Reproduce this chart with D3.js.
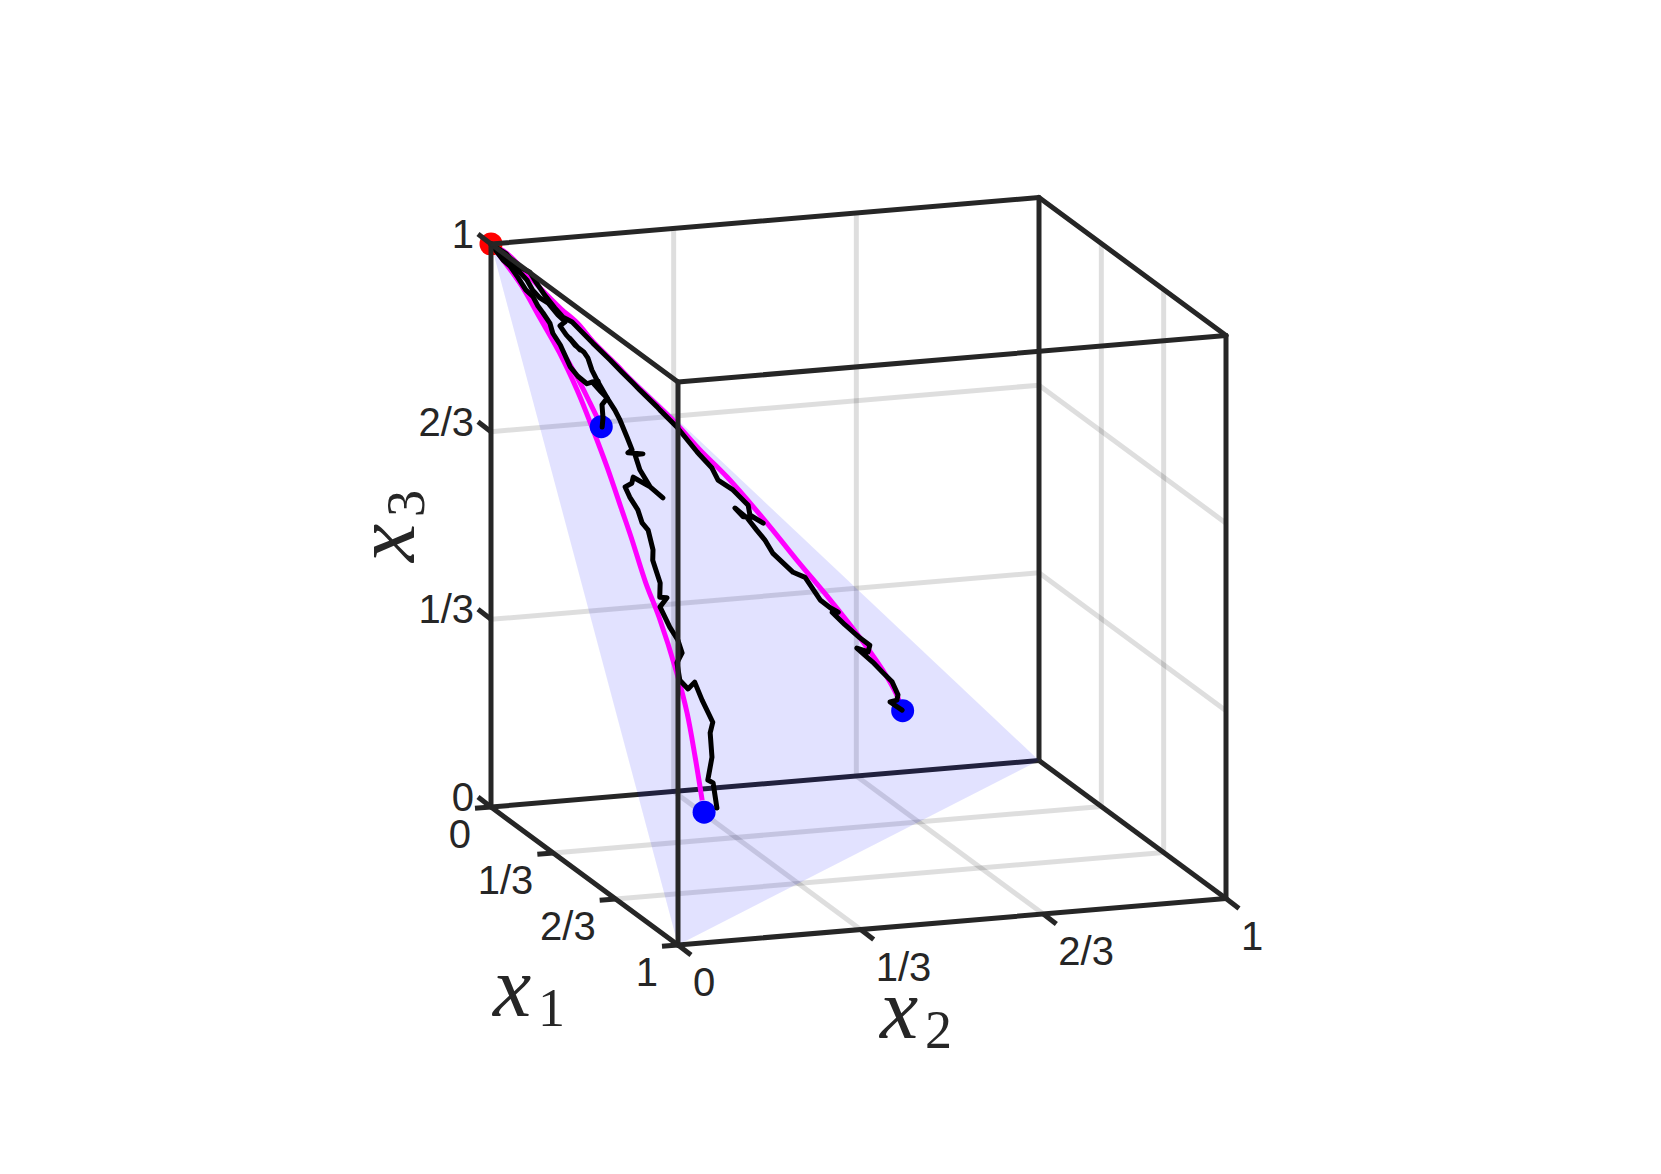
<!DOCTYPE html>
<html><head><meta charset="utf-8"><style>html,body{margin:0;background:#fff}svg{display:block}</style>
<script src="https://cdn.jsdelivr.net/npm/d3@7"></script></head><body><div id="c"></div>
<script>
// ---- Data: simplex coordinates ----
const tickValues = [0, 1/3, 2/3, 1];
const tickLabels = ["0", "1/3", "2/3", "1"];
const startPoint = [0, 0, 1];
const endX1 = [0.70, 0.15, 0.15];
const endX2 = [0.15, 0.15, 0.70];
const endX3 = [0.15, 0.70, 0.15];
const simplexX1 = [1, 0, 0], simplexX2 = [0, 1, 0], simplexX3 = [0, 0, 1];

const meanA1 = [0.000,0.005,0.009,0.026,0.053,0.084,0.124,0.171,0.217,0.272,0.307,0.368,0.409,0.483,0.542,0.611,0.681];
const meanA2 = [0.000,0.013,0.026,0.049,0.071,0.096,0.115,0.128,0.138,0.146,0.151,0.157,0.167,0.174,0.173,0.164,0.153];
const meanA3 = [1.000,0.982,0.965,0.925,0.876,0.820,0.761,0.701,0.645,0.582,0.542,0.475,0.424,0.343,0.285,0.225,0.166];
const meanB1 = [0.000,0.009,0.018,0.029,0.051,0.072,0.099,0.125,0.145];
const meanB2 = [0.000,0.019,0.038,0.056,0.077,0.101,0.123,0.138,0.149];
const meanB3 = [1.000,0.972,0.944,0.915,0.871,0.826,0.778,0.737,0.705];
const meanC1 = [0.000,0.000,0.000,0.000,0.000,0.000,0.004,0.004,0.008,0.009,0.017,0.020,0.036,0.053,0.070,0.090,0.114,0.134,0.152];
const meanC2 = [0.000,0.029,0.059,0.091,0.127,0.158,0.185,0.228,0.256,0.329,0.376,0.424,0.491,0.540,0.595,0.648,0.684,0.697,0.698];
const meanC3 = [1.000,0.981,0.949,0.913,0.875,0.846,0.812,0.767,0.736,0.662,0.607,0.556,0.473,0.407,0.336,0.262,0.202,0.169,0.150];

const pathA1 = [0.000,0.005,0.005,0.006,0.001,0.004,0.012,0.015,0.010,0.015,0.016,0.032,0.039,0.039,0.042,0.037,0.042,0.039,0.043,0.059,0.071,0.085,0.094,0.104,0.124,0.139,0.152,0.127,0.143,0.163,0.177,0.175,0.177,0.189,0.202,0.222,0.232,0.243,0.260,0.263,0.292,0.311,0.342,0.369,0.358,0.388,0.408,0.419,0.436,0.464,0.491,0.494,0.468,0.490,0.512,0.539,0.581,0.632,0.628,0.669];
const pathA2 = [0.000,0.015,0.026,0.038,0.052,0.064,0.072,0.084,0.101,0.117,0.130,0.115,0.124,0.136,0.148,0.131,0.139,0.156,0.162,0.164,0.171,0.183,0.194,0.200,0.206,0.210,0.198,0.234,0.214,0.216,0.230,0.254,0.230,0.195,0.188,0.169,0.174,0.185,0.187,0.197,0.196,0.189,0.192,0.182,0.199,0.176,0.187,0.198,0.200,0.181,0.177,0.191,0.212,0.218,0.230,0.216,0.205,0.180,0.191,0.184];
const pathA3 = [1.000,0.980,0.969,0.956,0.946,0.932,0.915,0.901,0.889,0.868,0.855,0.853,0.838,0.824,0.810,0.831,0.819,0.805,0.795,0.777,0.758,0.732,0.712,0.696,0.670,0.651,0.650,0.639,0.643,0.621,0.593,0.571,0.593,0.616,0.609,0.609,0.593,0.572,0.553,0.540,0.512,0.499,0.466,0.448,0.443,0.436,0.404,0.383,0.364,0.355,0.331,0.315,0.319,0.292,0.257,0.246,0.214,0.188,0.181,0.147];
const pathB1 = [0.000,0.009,0.008,0.014,0.025,0.026,0.034,0.038,0.045,0.058,0.069,0.081,0.093,0.095,0.094,0.082,0.069,0.082,0.084,0.085,0.107,0.130,0.149];
const pathB2 = [0.000,0.019,0.032,0.044,0.055,0.068,0.074,0.082,0.092,0.093,0.103,0.108,0.113,0.126,0.143,0.156,0.172,0.160,0.172,0.183,0.166,0.160,0.152];
const pathB3 = [1.000,0.972,0.960,0.941,0.920,0.907,0.892,0.880,0.863,0.848,0.829,0.812,0.795,0.778,0.763,0.762,0.759,0.758,0.744,0.732,0.727,0.710,0.699];
const pathC1 = [0.000,0.000,0.000,0.000,0.000,0.000,0.007,0.010,0.003,0.004,0.005,0.007,0.009,0.010,0.011,0.012,0.013,0.015,0.026,0.027,0.030,0.042,0.034,0.036,0.051,0.043,0.050,0.068,0.065,0.062,0.067,0.072,0.082,0.083,0.071,0.087,0.085,0.078,0.089,0.090,0.088,0.083,0.100,0.113,0.110,0.113,0.114,0.128,0.140,0.156,0.150];
const pathC2 = [0.000,0.028,0.045,0.071,0.083,0.098,0.114,0.128,0.147,0.161,0.184,0.215,0.236,0.256,0.268,0.299,0.304,0.334,0.367,0.372,0.393,0.400,0.430,0.457,0.455,0.482,0.461,0.437,0.423,0.446,0.462,0.475,0.486,0.523,0.549,0.571,0.590,0.607,0.592,0.615,0.643,0.663,0.654,0.629,0.659,0.677,0.693,0.699,0.693,0.675,0.699];
const pathC3 = [1.000,0.980,0.959,0.944,0.924,0.901,0.879,0.862,0.850,0.835,0.810,0.778,0.755,0.734,0.721,0.689,0.683,0.651,0.607,0.601,0.577,0.558,0.536,0.507,0.494,0.475,0.489,0.496,0.512,0.492,0.470,0.453,0.431,0.394,0.380,0.342,0.326,0.315,0.319,0.295,0.269,0.253,0.246,0.258,0.230,0.210,0.193,0.173,0.167,0.169,0.151];

// ---- Projection of the 3-D axes, built from D3 linear scales ----
const W = 1661, H = 1174, ox = 491, oy = 807;
const x1sx = d3.scaleLinear([0,1],[0,187]),  x1sy = d3.scaleLinear([0,1],[0,138]);
const x2sx = d3.scaleLinear([0,1],[0,548]),  x2sy = d3.scaleLinear([0,1],[0,-46.5]);
const x3sy = d3.scaleLinear([0,1],[0,-563]);
const px = (a,b) => ox + x1sx(a) + x2sx(b);
const py = (a,b,c) => oy + x1sy(a) + x2sy(b) + x3sy(c);
const P = (a,b,c) => [px(a,b), py(a,b,c)];
const zip3 = (A,B,C) => d3.zip(A,B,C);
const line3 = d3.line().x(d=>px(d[0],d[1])).y(d=>py(d[0],d[1],d[2])).curve(d3.curveLinear);
const smooth3 = d3.line().x(d=>px(d[0],d[1])).y(d=>py(d[0],d[1],d[2])).curve(d3.curveCatmullRom.alpha(0.5));

const svg = d3.select("#c").append("svg").attr("width",W).attr("height",H).attr("viewBox",[0,0,W,H]);
const ink = "#262626", boxW = 5, gridW = 5, gridOp = 0.13;
const seg = (g,a,b,stroke,w,op) => g.append("line").attr("x1",a[0]).attr("y1",a[1]).attr("x2",b[0]).attr("y2",b[1])
  .attr("stroke",stroke).attr("stroke-width",w).attr("stroke-opacity",op==null?1:op);

// grid on the three back walls
const grid = svg.append("g");
[1/3,2/3].forEach(t=>{
  seg(grid,P(0,t,0),P(0,t,1),"#000",gridW,gridOp);
  seg(grid,P(0,0,t),P(0,1,t),"#000",gridW,gridOp);
  seg(grid,P(t,1,0),P(t,1,1),"#000",gridW,gridOp);
  seg(grid,P(0,1,t),P(1,1,t),"#000",gridW,gridOp);
  seg(grid,P(t,0,0),P(t,1,0),"#000",gridW,gridOp);
  seg(grid,P(0,t,0),P(1,t,0),"#000",gridW,gridOp);
});

// back box edges (covered by the simplex)
const back = svg.append("g");
seg(back,P(0,0,0),P(0,1,0),ink,boxW);
seg(back,P(0,1,0),P(0,1,1),ink,boxW);
seg(back,P(0,1,0),P(1,1,0),ink,boxW);

// simplex
svg.append("polygon")
  .attr("points", d3.zip(simplexX1,simplexX2,simplexX3).map(d=>P(d[0],d[1],d[2]).join(",")).join(" "))
  .attr("fill","#0000ff").attr("fill-opacity",0.115);

// mean curves
svg.append("g").selectAll("path").data([zip3(meanA1,meanA2,meanA3),zip3(meanB1,meanB2,meanB3),zip3(meanC1,meanC2,meanC3)])
  .join("path").attr("d",smooth3).attr("fill","none").attr("stroke","#ff00ff").attr("stroke-width",5);

// start and end points
const pts = svg.append("g");
pts.selectAll("circle.end").data(zip3(endX1,endX2,endX3)).join("circle").attr("class","end")
  .attr("cx",d=>px(d[0],d[1])).attr("cy",d=>py(d[0],d[1],d[2])).attr("r",11.5).attr("fill","#0000ff");
pts.append("circle").attr("cx",px(startPoint[0],startPoint[1])).attr("cy",py(startPoint[0],startPoint[1],startPoint[2]))
  .attr("r",11.5).attr("fill","#ff0000");

// sample paths
svg.append("g").selectAll("path").data([zip3(pathA1,pathA2,pathA3),zip3(pathB1,pathB2,pathB3),zip3(pathC1,pathC2,pathC3)])
  .join("path").attr("d",line3).attr("fill","none").attr("stroke","#000").attr("stroke-width",5)
  .attr("stroke-linejoin","round").attr("stroke-linecap","round");

// front box edges
const box = svg.append("g");
[[[0,0,0],[1,0,0]],[[0,0,0],[0,0,1]],[[0,0,1],[1,0,1]],[[1,0,0],[1,0,1]],[[1,0,0],[1,1,0]],
 [[1,1,0],[1,1,1]],[[1,0,1],[1,1,1]],[[0,1,1],[1,1,1]],[[0,0,1],[0,1,1]]]
 .forEach(e=>seg(box,P(...e[0]),P(...e[1]),ink,boxW).attr("stroke-linecap","round"));

// ticks
const ticks = svg.append("g");
tickValues.forEach(t=>{
  const a=P(t,0,0), b=P(0,0,t), c=P(1,t,0);
  seg(ticks,a,[a[0]-16,a[1]+1.3],ink,boxW);
  seg(ticks,b,[b[0]-13,b[1]-10],ink,boxW);
  seg(ticks,c,[c[0]+13,c[1]+10],ink,boxW);
});

// tick labels
const lab = svg.append("g").attr("font-family","'Liberation Sans',Arial,sans-serif").attr("font-size",40).attr("fill",ink);
tickValues.forEach((t,i)=>{
  const a=P(t,0,0), b=P(0,0,t), c=P(1,t,0);
  lab.append("text").attr("x",a[0]-20).attr("y",a[1]+27+14).attr("text-anchor","end").text(tickLabels[i]);
  lab.append("text").attr("x",b[0]-17).attr("y",b[1]-10+14).attr("text-anchor","end").text(tickLabels[i]);
  lab.append("text").attr("x",c[0]+15).attr("y",c[1]+37+14).attr("text-anchor","start").text(tickLabels[i]);
});

// axis titles
const title = (x,y,sub,rot) => {
  const g = svg.append("g").attr("transform",`translate(${x},${y})`+(rot?" rotate(-90)":"")).attr("fill",ink);
  g.append("text").attr("font-family","'Liberation Serif',serif").attr("font-style","italic").attr("font-size",86).attr("x",0).attr("y",0).text("x");
  g.append("text").attr("font-family","'Liberation Serif',serif").attr("font-size",54).attr("x",45).attr("y",10).text(sub);
};
title(493,1016,"1",false);
title(880,1038,"2",false);
title(414,562,"3",true);
</script></body></html>
